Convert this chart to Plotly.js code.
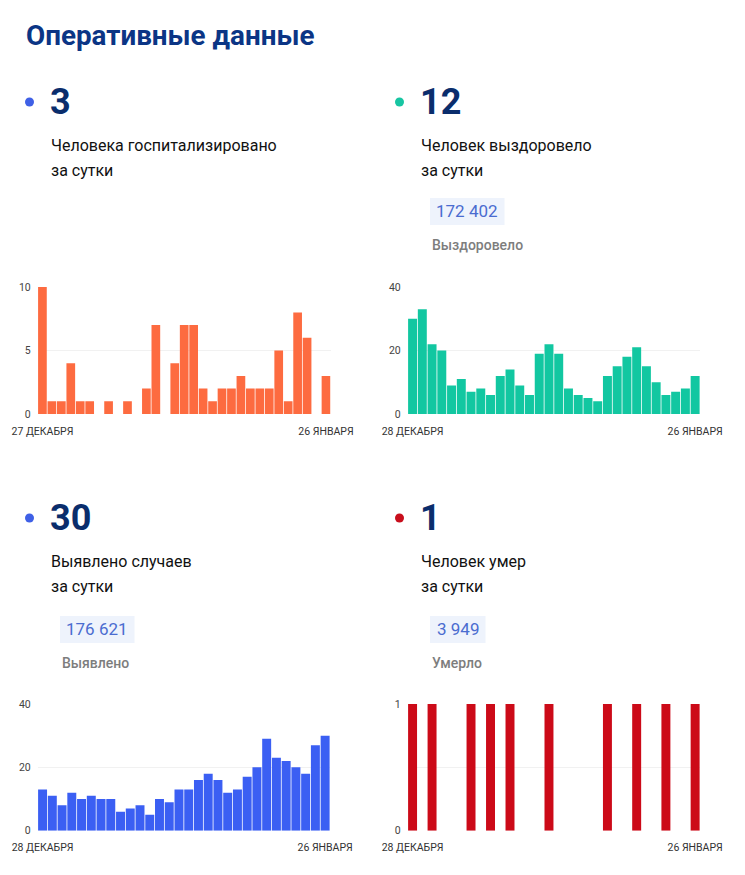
<!DOCTYPE html>
<html>
<head>
<meta charset="utf-8">
<script src="https://cdn.plot.ly/plotly-3.0.1.min.js"></script>
<style>
html,body{margin:0;padding:0;background:#fff;}
#chart{width:745px;height:875px;}
</style>
</head>
<body>
<div id="chart"></div>
<script>
// ---- data ----
const hospDays = ['27.12','28.12','29.12','30.12','31.12','01.01','02.01','03.01','04.01','05.01','06.01','07.01','08.01','09.01','10.01','11.01','12.01','13.01','14.01','15.01','16.01','17.01','18.01','19.01','20.01','21.01','22.01','23.01','24.01','25.01','26.01'];
const hospValues = [10,1,1,4,1,1,0,1,0,1,0,2,7,0,4,7,7,2,1,2,2,3,2,2,2,5,1,8,6,0,3];
const days = ['28.12','29.12','30.12','31.12','01.01','02.01','03.01','04.01','05.01','06.01','07.01','08.01','09.01','10.01','11.01','12.01','13.01','14.01','15.01','16.01','17.01','18.01','19.01','20.01','21.01','22.01','23.01','24.01','25.01','26.01'];
const recoveredValues = [30,33,22,20,9,11,7,8,6,12,14,9,6,19,22,19,8,6,5,4,12,15,18,21,15,10,6,7,8,12];
const casesValues = [13,11,8,12,10,11,10,10,6,7,8,5,10,9,13,13,16,18,16,12,13,17,20,29,23,22,20,18,27,30];
const deathValues = [1,0,1,0,0,0,1,0,1,0,1,0,0,0,1,0,0,0,0,0,1,0,0,1,0,0,1,0,0,1];
const hospTickText = ['27 ДЕКАБРЯ','26 ЯНВАРЯ'];
const mainTickText = ['28 ДЕКАБРЯ','26 ЯНВАРЯ'];

const headline = 'Оперативные данные';
const cards = [
  {num:'3',  line1:'Человека госпитализировано', line2:'за сутки', total:null, totalLabel:null, dot:'#3f60e6'},
  {num:'12', line1:'Человек выздоровело', line2:'за сутки', total:'172 402', totalLabel:'Выздоровело', dot:'#17c5a2'},
  {num:'30', line1:'Выявлено случаев', line2:'за сутки', total:'176 621', totalLabel:'Выявлено', dot:'#3f60e6'},
  {num:'1',  line1:'Человек умер', line2:'за сутки', total:'3 949', totalLabel:'Умерло', dot:'#c80e1c'}
];

// ---- layout helpers (pixel -> paper) ----
const W = 745, H = 875;
const px = x => x / W;
const py = y => 1 - y / H;
const FONT = 'Roboto, "Open Sans", sans-serif';

const traces = [
  {type:'bar', x:hospDays, y:hospValues, xaxis:'x', yaxis:'y', marker:{color:'#fd6b40'}, hoverinfo:'x+y'},
  {type:'bar', x:days, y:recoveredValues, xaxis:'x2', yaxis:'y2', marker:{color:'#12c7a1'}, hoverinfo:'x+y'},
  {type:'bar', x:days, y:casesValues, xaxis:'x3', yaxis:'y3', marker:{color:'#3b5ff3'}, hoverinfo:'x+y'},
  {type:'bar', x:days, y:deathValues, xaxis:'x4', yaxis:'y4', marker:{color:'#cc0a18'}, hoverinfo:'x+y'}
];

function xAxis(dom, cats, tt){
  return {domain:[px(dom[0]), px(dom[1])], type:'category', categoryarray:cats,
    range:[-0.5, cats.length-0.5], showgrid:false, zeroline:false, showline:false,
    tickmode:'array', tickvals:[cats[0], cats[cats.length-1]], ticktext:tt,
    ticks:'', ticklabelstandoff:9, tickfont:{family:FONT, size:10.5, color:'#333'}, fixedrange:true};
}
function yAxis(dom, anchor, range, vals, text){
  return {domain:[py(dom[1]), py(dom[0])], anchor:anchor, range:range,
    tickmode:'array', tickvals:vals, ticktext:text, showgrid:true, gridcolor:'#f1f1f1', gridwidth:1,
    zeroline:false, showline:false, ticks:'', ticklabelstandoff:6,
    tickfont:{family:FONT, size:10.5, color:'#444'}, fixedrange:true};
}

const layout = {
  width:W, height:H, margin:{l:0,r:0,t:0,b:0},
  paper_bgcolor:'#fff', plot_bgcolor:'#fff', showlegend:false, bargap:0.08,
  font:{family:FONT},
  xaxis: Object.assign(xAxis([37.7,330.7], hospDays, hospTickText), {anchor:'y'}),
  yaxis: yAxis([287,414], 'x', [0,10], [0,5,10], ['0','5','10']),
  xaxis2: Object.assign(xAxis([407.7,700], days, mainTickText), {anchor:'y2'}),
  yaxis2: yAxis([287,414], 'x2', [0,40], [0,20,40], ['0','20','40']),
  xaxis3: Object.assign(xAxis([37.7,330], days, mainTickText), {anchor:'y3'}),
  yaxis3: yAxis([704,830.7], 'x3', [0,40], [0,20,40], ['0','20','40']),
  xaxis4: Object.assign(xAxis([407.7,700], days, mainTickText), {anchor:'y4'}),
  yaxis4: yAxis([704,830.7], 'x4', [0,1], [0,0.5,1], ['0','','1']),
  annotations: [], shapes: []
};

function ann(text, x, y, size, color, opts, weight){
  layout.annotations.push(Object.assign({text:text, x:px(x), y:py(y), xref:'paper', yref:'paper',
    xanchor:'left', yanchor:'middle', showarrow:false,
    font:{family:FONT, size:size, color:color, weight:weight||'normal'}}, opts||{}));
}
function badgeRect(x0,y0,x1,y1,fill){
  layout.shapes.push({type:'rect', xref:'paper', yref:'paper', x0:px(x0), x1:px(x1), y0:py(y1), y1:py(y0),
    fillcolor:fill, line:{width:0}, layer:'below'});
}

ann(headline, 24, 35, 27.8, '#0b3585', null, 'bold');

const pos = [{x:50,y:102},{x:420,y:102},{x:50,y:518},{x:420,y:518}];
cards.forEach((c,i)=>{
  const p = pos[i];
  layout.shapes.push({type:'circle', xref:'paper', yref:'paper',
    x0:px(p.x-25), x1:px(p.x-16), y0:py(p.y+4.5), y1:py(p.y-4.5), fillcolor:c.dot, line:{width:0}});
  ann(c.num, p.x-2, p.y, 36, '#0a2d6c', null, 'bold');
  ann(c.line1, p.x-1, p.y+43, 16, '#111');
  ann(c.line2, p.x-1, p.y+68, 16, '#111');
});
// totals badges
const badgePos = [null,{x:430,y:211},{x:60,y:629},{x:430,y:629}];
cards.forEach((c,i)=>{
  if(!c.total) return;
  const b = badgePos[i];
  const w = c.total.length*9.5 + 8;
  badgeRect(b.x, b.y-13, b.x+w, b.y+14, '#eef3fc');
  ann(c.total, b.x+w/2, b.y, 17, '#4a6cd0', {xanchor:'center'}, 'normal');
  ann(c.totalLabel, b.x, b.y+34, 14, '#7d7d7d', null, 500);
});

Plotly.newPlot('chart', traces, layout, {displayModeBar:false, staticPlot:true});
</script>
</body>
</html>
